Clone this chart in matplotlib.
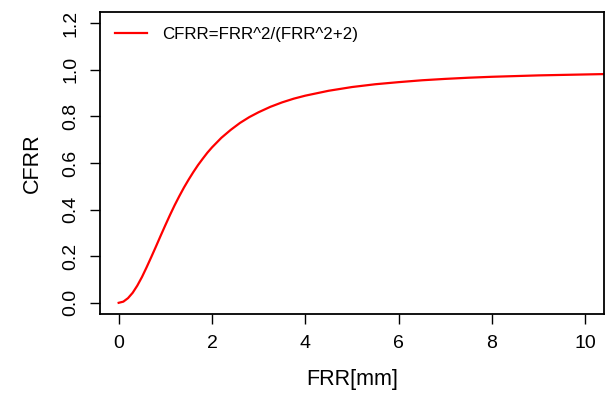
import matplotlib
matplotlib.use("Agg")
import matplotlib.pyplot as plt

plt.rcParams["font.family"] = ["Liberation Sans", "DejaVu Sans"]

# values
frr = [0, 0.1, 0.2, 0.3, 0.4, 0.5, 0.6, 0.7, 0.8, 0.9, 1.0, 1.1, 1.2, 1.3, 1.4,
       1.5, 1.6, 1.7, 1.8, 1.9, 2.0, 2.2, 2.4, 2.6, 2.8, 3.0, 3.25, 3.5, 3.75,
       4.0, 4.5, 5.0, 5.5, 6.0, 6.5, 7.0, 7.5, 8.0, 8.5, 9.0, 9.5, 10.0, 10.5]
cfrr = [0.0, 0.005, 0.020, 0.043, 0.074, 0.111, 0.153, 0.197, 0.242, 0.288,
        0.333, 0.377, 0.419, 0.458, 0.495, 0.529, 0.561, 0.591, 0.618, 0.644,
        0.667, 0.708, 0.742, 0.772, 0.797, 0.818, 0.841, 0.860, 0.876,
        0.889, 0.910, 0.926, 0.938, 0.947, 0.955, 0.961, 0.966, 0.970,
        0.973, 0.976, 0.978, 0.980, 0.982]
x_ticks = [0, 2, 4, 6, 8, 10]
y_ticks = [0.0, 0.2, 0.4, 0.6, 0.8, 1.0, 1.2]
legend_label = "CFRR=FRR^2/(FRR^2+2)"

fig = plt.figure(figsize=(6.06, 3.98), dpi=100)
ax = fig.add_axes([100 / 606, 84 / 398, 504 / 606, 302 / 398])

ax.plot(frr, cfrr, color="red", lw=1.6, label=legend_label)
ax.set_xlim(-0.4, 10.4)
ax.set_ylim(-0.048, 1.248)

ax.set_xticks(x_ticks)
ax.set_xticklabels([str(t) for t in x_ticks])
ax.set_yticks(y_ticks)
ax.set_yticklabels([f"{t:.1f}" for t in y_ticks], rotation=90, va="center")
ax.tick_params(direction="out", length=7, width=1, labelsize=14, pad=8)

for s in ax.spines.values():
    s.set_linewidth(1.3)

ax.set_xlabel("FRR[mm]", fontsize=15.5, labelpad=12)
ax.set_ylabel("CFRR", fontsize=15.5, labelpad=14)

ax.legend(loc="upper left", frameon=False, fontsize=12.2,
          handlelength=1.85, borderaxespad=0.5, handletextpad=0.9)

fig.savefig("out.png", dpi=100)
